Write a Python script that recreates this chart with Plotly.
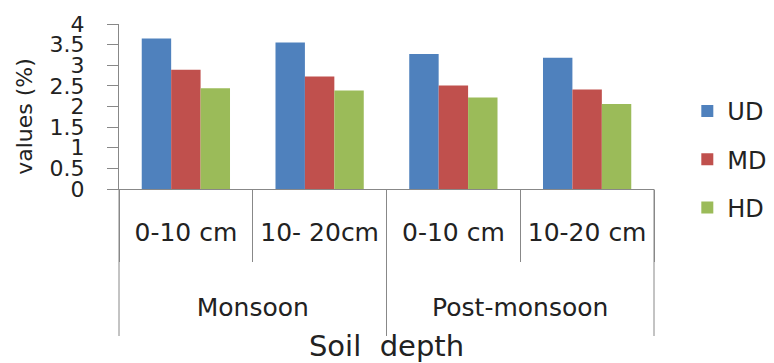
import plotly.graph_objects as go

# Season (outer) and depth (inner) categories
seasons = ["Monsoon", "Monsoon", "Post-monsoon", "Post-monsoon"]
depths = ["0-10 cm", "10- 20cm", "0-10 cm", "10-20 cm"]

# Values (%) per disturbance level
ud = [3.65, 3.55, 3.27, 3.18]
md = [2.89, 2.73, 2.51, 2.41]
hd = [2.44, 2.39, 2.22, 2.06]

series = [("UD", ud, "#4F81BD"), ("MD", md, "#C0504D"), ("HD", hd, "#9BBB59")]

AXIS_GREY = "#888888"
TEXT = "#222222"
FONT = "DejaVu Sans"

# Season labels sit two lines below the depth labels
season_ticks = ["<br><br>" + s for s in seasons]

fig = go.Figure()
for name, vals, color in series:
    fig.add_trace(go.Bar(
        name=name,
        x=[season_ticks, depths],
        y=vals,
        legendgroup=name,
        marker=dict(color=color, line=dict(width=0)),
    ))

# Season separators: full-height lines at the outer group boundaries,
# running from the axis line down past the season labels.
for xb in (0, 0.5, 1):
    fig.add_shape(
        type="line", xref="paper", yref="paper",
        x0=xb, x1=xb, y0=0, y1=-0.891,
        line=dict(color=AXIS_GREY, width=1),
    )

# Rotated y-axis title
fig.add_annotation(
    text="values (%)", xref="paper", yref="paper",
    x=-0.178, y=0.442, xanchor="center", yanchor="middle",
    textangle=-90, showarrow=False,
    font=dict(size=22, family=FONT, color=TEXT),
)

fig.update_layout(
    width=774,
    height=363,
    margin=dict(l=119, r=120, t=24, b=174),
    paper_bgcolor="white",
    plot_bgcolor="white",
    barmode="group",
    bargap=0.34,
    bargroupgap=0,
    font=dict(family=FONT, color=TEXT),
    showlegend=True,
    legend=dict(
        xref="container", yref="container",
        x=0.888, xanchor="left",
        y=0.755, yanchor="top",
        font=dict(size=24, family=FONT, color=TEXT),
        tracegroupgap=14,
        bgcolor="rgba(0,0,0,0)",
    ),
    xaxis=dict(
        type="multicategory",
        automargin=False,
        showline=True,
        linecolor=AXIS_GREY,
        linewidth=1,
        ticks="outside",
        tickson="boundaries",
        ticklen=72,
        tickcolor=AXIS_GREY,
        ticklabelstandoff=21,
        showdividers=False,
        tickfont=dict(size=25, family=FONT, color=TEXT),
        showgrid=False,
        title=dict(text="Soil\u00a0\u00a0depth", font=dict(size=29, family=FONT, color=TEXT), standoff=14),
    ),
    yaxis=dict(
        range=[0, 4],
        dtick=0.5,
        tick0=0,
        automargin=False,
        showline=True,
        linecolor=AXIS_GREY,
        linewidth=1,
        ticks="outside",
        ticklen=11,
        tickcolor=AXIS_GREY,
        ticklabelstandoff=18,
        tickfont=dict(size=22, family=FONT, color=TEXT),
        showgrid=False,
        zeroline=False,
    ),
)

fig.write_html("out.html")
